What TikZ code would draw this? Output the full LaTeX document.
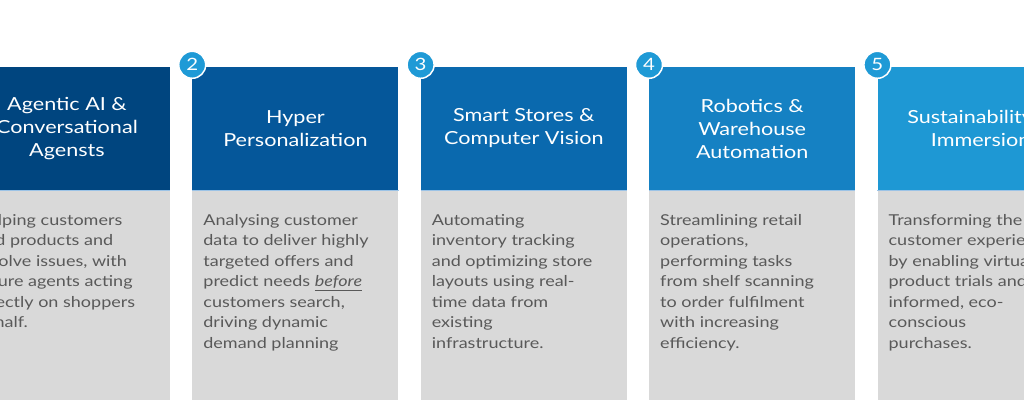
\documentclass[tikz,border=0pt]{standalone}
\usepackage{fontspec}
\setmainfont{Lato}[FakeStretch=1.2]
\usetikzlibrary{positioning}
\definecolor{headone}{HTML}{00457F}
\definecolor{headtwo}{HTML}{05579A}
\definecolor{headthree}{HTML}{0A69AE}
\definecolor{headfour}{HTML}{1581C3}
\definecolor{headfive}{HTML}{1E98D4}
\definecolor{badgeblue}{HTML}{1F9AD6}
\definecolor{panelgray}{HTML}{D9D9D9}
\definecolor{textgray}{HTML}{595959}
\definecolor{seamblue}{HTML}{9CC3E6}
\tikzset{x=1pt, y=1pt, node distance=22pt,
  head/.style={rectangle, minimum width=206pt, minimum height=123pt, inner sep=0pt,
    text=white, align=center, font=\fontsize{18}{23}\selectfont},
  panel/.style={rectangle, fill=panelgray, minimum width=206pt, minimum height=210pt, inner sep=0pt},
  desc/.style={inner sep=0pt, text=textgray, align=left, font=\fontsize{15}{20.5}\selectfont},
  badge/.style={circle, fill=badgeblue, draw=white, line width=1.5pt, minimum size=27pt,
    inner sep=0pt, text=white, font=\fontsize{17}{17}\selectfont},
  seam/.style={seamblue, line width=1pt}}

\begin{document}
\begin{tikzpicture}
    \useasboundingbox (0,0) rectangle (1024,404);
    \clip (0,0) rectangle (1024,404);
    \node[head, fill=headone] (agentic) at (67,275.5) {Agentic AI \&\\Conversational\\Agensts};
    \node[head, fill=headtwo, right=of agentic] (hyper) {Hyper\\Personalization};
    \node[head, fill=headthree, right=of hyper] (smart-stores) {Smart Stores \&\\Computer Vision};
    \node[head, fill=headfour, right=of smart-stores] (robotics) {Robotics \&\\Warehouse\\Automation};
    \node[head, fill=headfive, right=of robotics] (sustain) {Sustainability \&\\Immersion};

    \node[panel, below=0pt of agentic] (agentic-body) {};
    \node[panel, below=0pt of hyper] (hyper-body) {};
    \node[panel, below=0pt of smart-stores] (smart-stores-body) {};
    \node[panel, below=0pt of robotics] (robotics-body) {};
    \node[panel, below=0pt of sustain] (sustain-body) {};
    \draw[seam] (agentic.south west) -- (agentic.south east)
        (hyper.south west) -- (hyper.south east)
        (smart-stores.south west) -- (smart-stores.south east)
        (robotics.south west) -- (robotics.south east)
        (sustain.south west) -- (sustain.south east);

    \node[desc, below right=24pt and 11pt of agentic-body.north west] (agentic-text)
        {Helping customers\\find products and\\resolve issues, with\\future agents acting\\directly on shoppers\\behalf.};
    \node[desc, below right=24pt and 11pt of hyper-body.north west] (hyper-text)
        {Analysing customer\\data to deliver highly\\targeted offers and\\predict needs \underline{\textit{before}}\\customers search,\\driving dynamic\\demand planning};
    \node[desc, below right=24pt and 11pt of smart-stores-body.north west] (smart-stores-text)
        {Automating\\inventory tracking\\and optimizing store\\layouts using real-\\time data from\\existing\\infrastructure.};
    \node[desc, below right=24pt and 11pt of robotics-body.north west] (robotics-text)
        {Streamlining retail\\operations,\\performing tasks\\from shelf scanning\\to order fulfilment\\with increasing\\efficiency.};
    \node[desc, below right=24pt and 11pt of sustain-body.north west] (sustain-text)
        {Transforming the\\customer experience\\by enabling virtual\\product trials and\\informed, eco-\\conscious\\purchases.};

    \node[badge] (badge-two) at ([yshift=2pt]hyper.north west) {2};
    \node[badge] (badge-three) at ([yshift=2pt]smart-stores.north west) {3};
    \node[badge] (badge-four) at ([yshift=2pt]robotics.north west) {4};
    \node[badge] (badge-five) at ([yshift=2pt]sustain.north west) {5};
\end{tikzpicture}
\end{document}
